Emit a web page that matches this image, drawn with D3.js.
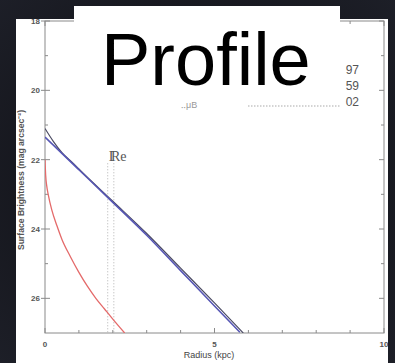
<!DOCTYPE html>
<html>
<head>
<meta charset="utf-8">
<script src="https://cdn.jsdelivr.net/npm/d3@7"></script>
<style>
  html, body { margin: 0; padding: 0; background: #111; }
  svg { display: block; }
</style>
</head>
<body>
<div id="chart"></div>
<script>
// values
const xTicks = [0, 5, 10];
const yTicks = [18, 20, 22, 24, 26];
const xMinor = [1, 2, 3, 4, 6, 7, 8, 9];
const yMinor = [19, 21, 23, 25];

const diskRadius = [0, 1, 2, 3, 4, 5, 5.75];
const diskMu = [21.35, 22.29, 23.23, 24.18, 25.2, 26.22, 26.98];

const totalRadius = [0, 0.25, 0.5, 0.85, 1, 2, 3, 4, 5, 5.85];
const totalMu = [21.1, 21.48, 21.8, 22.12, 22.27, 23.2, 24.13, 25.13, 26.13, 27.0];

const bulgeRadius = [0, 0.02, 0.05, 0.1, 0.2, 0.35, 0.5, 0.75, 1, 1.25, 1.5, 1.75, 2, 2.35];
const bulgeMu = [22.0, 22.45, 22.75, 23.03, 23.45, 23.9, 24.3, 24.8, 25.25, 25.65, 26.0, 26.3, 26.6, 27.0];

const reRadii = [1.85, 2.03];
const statLabels = ["97", "59", "02"];

const w = 395;
const h = 363;

const svg = d3.select("#chart").append("svg")
  .attr("width", w)
  .attr("height", h);

// dark backdrop
const defs = svg.append("defs");
const bg = defs.append("radialGradient")
  .attr("id", "bg")
  .attr("cx", "50%").attr("cy", "50%").attr("r", "75%");
bg.append("stop").attr("offset", "0%").attr("stop-color", "#0c0c10");
bg.append("stop").attr("offset", "100%").attr("stop-color", "#1e2029");

svg.append("rect")
  .attr("width", w).attr("height", h)
  .attr("fill", "url(#bg)");

// white panel of the plot
const panel = { x: 16, y: 19, w: 372, h: 344 };
svg.append("rect")
  .attr("x", panel.x).attr("y", panel.y)
  .attr("width", panel.w).attr("height", panel.h)
  .attr("fill", "#fff");

defs.append("clipPath").attr("id", "panelClip")
  .append("rect")
  .attr("x", panel.x).attr("y", panel.y)
  .attr("width", panel.w).attr("height", panel.h);

const x = d3.scaleLinear().domain([0, 10]).range([45, 384]);
const y = d3.scaleLinear().domain([18, 27]).range([21, 333]);

defs.append("clipPath").attr("id", "plotClip")
  .append("rect")
  .attr("x", x(0)).attr("y", y(18))
  .attr("width", x(10) - x(0)).attr("height", y(27) - y(18));

const axisColor = "#8a8a8a";
const labelColor = "#555";

// frame
svg.append("rect")
  .attr("x", x(0)).attr("y", y(18))
  .attr("width", x(10) - x(0)).attr("height", y(27) - y(18))
  .attr("fill", "none")
  .attr("stroke", axisColor)
  .attr("stroke-width", 1);

// ticks on all four sides
const tickG = svg.append("g")
  .attr("stroke", axisColor)
  .attr("stroke-width", 1);

function xTickLines(vals, len) {
  tickG.selectAll(null).data(vals).join("line")
    .attr("x1", d => x(d)).attr("x2", d => x(d))
    .attr("y1", y(27)).attr("y2", y(27) - len);
  tickG.selectAll(null).data(vals).join("line")
    .attr("x1", d => x(d)).attr("x2", d => x(d))
    .attr("y1", y(18)).attr("y2", y(18) + len);
}
function yTickLines(vals, len) {
  tickG.selectAll(null).data(vals).join("line")
    .attr("x1", x(0)).attr("x2", x(0) + len)
    .attr("y1", d => y(d)).attr("y2", d => y(d));
  tickG.selectAll(null).data(vals).join("line")
    .attr("x1", x(10)).attr("x2", x(10) - len)
    .attr("y1", d => y(d)).attr("y2", d => y(d));
}
xTickLines(xTicks, 5);
xTickLines(xMinor, 3);
yTickLines(yTicks, 5);
yTickLines(yMinor, 3);

// small outward marks at major y ticks
tickG.selectAll(null).data(yTicks).join("line")
  .attr("x1", x(0) - 4).attr("x2", x(0))
  .attr("y1", d => y(d)).attr("y2", d => y(d));

// tick labels
svg.append("g")
  .selectAll("text")
  .data(yTicks)
  .join("text")
    .attr("x", 40)
    .attr("y", d => y(d) + 3)
    .attr("text-anchor", "end")
    .style("font-family", "Liberation Sans, Arial, sans-serif")
    .style("font-size", "8px")
    .style("font-weight", "bold")
    .style("fill", labelColor)
    .text(d => d);

svg.append("g")
  .attr("clip-path", "url(#panelClip)")
  .selectAll("text")
  .data(xTicks)
  .join("text")
    .attr("x", d => x(d))
    .attr("y", 347)
    .attr("text-anchor", "middle")
    .style("font-family", "Liberation Sans, Arial, sans-serif")
    .style("font-size", "8px")
    .style("font-weight", "bold")
    .style("fill", labelColor)
    .text(d => d);

// axis titles
svg.append("text")
  .attr("x", 209).attr("y", 358)
  .attr("text-anchor", "middle")
  .style("font-family", "Liberation Sans, Arial, sans-serif")
  .style("font-size", "9px")
  .style("fill", "#444")
  .text("Radius (kpc)");

svg.append("text")
  .attr("transform", "translate(24,180) rotate(-90)")
  .attr("text-anchor", "middle")
  .style("font-family", "Liberation Sans, Arial, sans-serif")
  .style("font-size", "8.6px")
  .style("font-weight", "bold")
  .style("fill", "#555")
  .text("Surface Brightness (mag arcsec⁻²)");

// effective radius markers
const plot = svg.append("g").attr("clip-path", "url(#plotClip)");

plot.selectAll("line.re")
  .data(reRadii)
  .join("line")
    .attr("class", "re")
    .attr("x1", d => x(d)).attr("x2", d => x(d))
    .attr("y1", y(22.1)).attr("y2", y(27))
    .attr("stroke", "#b0b0b0")
    .attr("stroke-width", 0.8)
    .attr("stroke-dasharray", "1.2,1.8");

const reLabel = svg.append("text")
  .attr("x", x(reRadii[0]) + 1)
  .attr("y", y(22) + 1)
  .style("font-family", "Liberation Serif, Times New Roman, serif")
  .style("font-size", "14px")
  .style("fill", "#555");
reLabel.append("tspan").style("letter-spacing", "-2.5px").text("I");
reLabel.append("tspan").text("Re");

// profiles
const line = d3.line()
  .x(d => x(d[0]))
  .y(d => y(d[1]))
  .curve(d3.curveMonotoneX);

plot.append("path")
  .datum(d3.zip(bulgeRadius, bulgeMu))
  .attr("d", line)
  .attr("fill", "none")
  .attr("stroke", "#e46a6a")
  .attr("stroke-width", 1.3);

plot.append("path")
  .datum(d3.zip(totalRadius, totalMu))
  .attr("d", line)
  .attr("fill", "none")
  .attr("stroke", "#4a4a62")
  .attr("stroke-width", 1.2);

plot.append("path")
  .datum(d3.zip(diskRadius, diskMu))
  .attr("d", line)
  .attr("fill", "none")
  .attr("stroke", "#5656b4")
  .attr("stroke-width", 1.6);

// fit parameters, mostly hidden behind the title box
svg.append("text")
  .attr("x", 181).attr("y", 108)
  .style("font-family", "Liberation Sans, Arial, sans-serif")
  .style("font-size", "9px")
  .style("fill", "#999")
  .text("‥μB");

svg.append("line")
  .attr("x1", 248).attr("x2", 341)
  .attr("y1", 106).attr("y2", 106)
  .attr("stroke", "#aaa")
  .attr("stroke-width", 1.2)
  .attr("stroke-dasharray", "1.5,1.5");

svg.append("g")
  .selectAll("text")
  .data(statLabels)
  .join("text")
    .attr("x", 359)
    .attr("y", (d, i) => 74 + i * 16)
    .attr("text-anchor", "end")
    .style("font-family", "Liberation Sans, Arial, sans-serif")
    .style("font-size", "12px")
    .style("fill", "#555")
    .text(d => d);

// title box
svg.append("rect")
  .attr("x", 74).attr("y", 6)
  .attr("width", 266).attr("height", 93)
  .attr("fill", "#fff");

svg.append("text")
  .attr("x", 101).attr("y", 85)
  .style("font-family", "Liberation Sans, Arial, sans-serif")
  .style("font-size", "74px")
  .style("fill", "#000")
  .text("Profile");
</script>
</body>
</html>
